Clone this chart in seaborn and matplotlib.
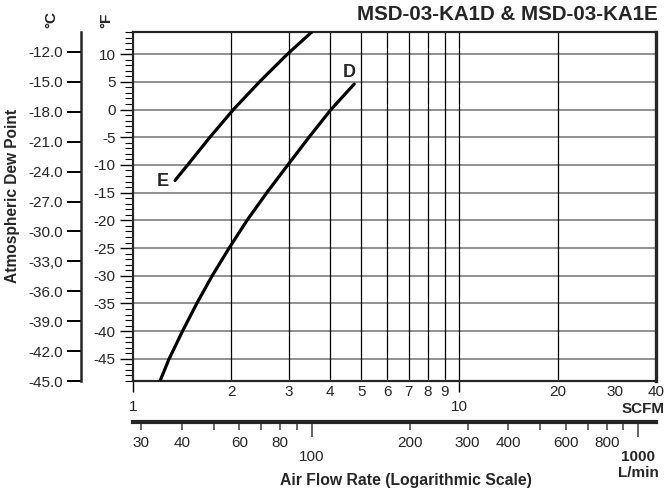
import numpy as np
import pandas as pd
import seaborn as sns
import matplotlib.pyplot as plt
from matplotlib.ticker import NullLocator

# Curve D (MSD-03-KA1D): air flow (SCFM) vs atmospheric dew point (°F)
d_scfm = [1.21, 1.29, 1.418, 1.568, 1.748, 1.97, 2.235, 2.57, 2.98, 3.46, 4.04, 4.76]
d_dew_f = [-49, -45, -40, -35, -30, -25, -20, -15, -10, -5, 0, 4.6]

# Curve E (MSD-03-KA1E)
e_scfm = [1.345, 1.47, 1.72, 2.03, 2.44, 2.97, 3.53]
e_dew_f = [-12.8, -10, -5, 0, 5, 10, 14]

# axis ticks
f_ticks = list(range(-45, 11, 5))
c_ticks = [-12, -15, -18, -21, -24, -27, -30, -33, -36, -39, -42, -45]
c_labels = ['-12.0', '-15.0', '-18.0', '-21.0', '-24.0', '-27.0', '-30.0',
            '-33,0', '-36.0', '-39.0', '-42.0', '-45.0']
scfm_major = [1, 10]
scfm_minor = [2, 3, 4, 5, 6, 7, 8, 9, 20, 30, 40]
scfm_grid = [2, 3, 4, 5, 6, 7, 8, 9, 10, 20]
lmin_major = [100, 1000]
lmin_major_labels = ['100', '1000\nL/min']
lmin_minor = [30, 40, 50, 60, 70, 80, 90, 200, 300, 400, 500, 600, 700, 800, 900]
lmin_minor_labels = ['30', '40', '', '60', '', '80', '', '200', '300', '400', '',
                     '600', '', '800', '']

L_PER_SCFM = 28.317

sns.set_style('ticks')
plt.rcParams['font.family'] = ['Liberation Sans', 'DejaVu Sans']

W, H = 668, 493
fig = plt.figure(figsize=(W / 100, H / 100), dpi=100)
ax = fig.add_axes([133 / W, 1 - 381 / H, 523 / W, 349 / H])

df_d = pd.DataFrame({'scfm': d_scfm, 'dew_f': d_dew_f})
df_e = pd.DataFrame({'scfm': e_scfm, 'dew_f': e_dew_f})
sns.lineplot(data=df_d, x='scfm', y='dew_f', sort=False, color='black', lw=2.3, ax=ax, zorder=5)
sns.lineplot(data=df_e, x='scfm', y='dew_f', sort=False, color='black', lw=2.3, ax=ax, zorder=5)

ax.set_xscale('log')
ax.set_xlim(1, 40)
ax.set_ylim(-49, 14)
ax.set_xlabel('')
ax.set_ylabel('')

# curve labels
ax.annotate('D', (d_scfm[-1], d_dew_f[-1]), xytext=(-3.6, 8.6), textcoords='offset points',
            ha='center', va='center', fontsize=13, fontweight='bold')
ax.annotate('E', (e_scfm[0], e_dew_f[0]), xytext=(-8.6, -0.8), textcoords='offset points',
            ha='center', va='center', fontsize=13, fontweight='bold')

# °F axis
ax.set_yticks(f_ticks, labels=[str(v) for v in f_ticks])
ax.set_yticks(np.arange(-49, 15), minor=True)
ax.tick_params(axis='y', which='major', length=9.5, width=1, pad=3, labelsize=11, color='black')
ax.tick_params(axis='y', which='minor', length=6, width=0.8, color='black')
ax.yaxis.grid(True, which='major', color='0.45', lw=1.1)

# SCFM axis
ax.set_xticks(scfm_major, labels=[str(v) for v in scfm_major])
ax.set_xticks(scfm_minor, labels=[str(v) for v in scfm_minor], minor=True)
ax.tick_params(axis='x', which='major', length=8, width=1, pad=5.5, labelsize=11, color='black')
ax.tick_params(axis='x', which='minor', length=0, pad=3, labelsize=11)
for v in scfm_grid:
    ax.axvline(v, color='black', lw=0.9, zorder=1)

for s in ['left', 'top', 'bottom']:
    ax.spines[s].set_linewidth(1.6)
ax.spines['right'].set_linewidth(2.4)


# °C axis
def f_to_c(f):
    return (np.asarray(f) - 32) * 5 / 9


def c_to_f(c):
    return np.asarray(c) * 9 / 5 + 32


sec_c = ax.secondary_yaxis(-52 / 523, functions=(f_to_c, c_to_f))
sec_c.set_yticks(c_ticks, labels=c_labels)
sec_c.yaxis.set_minor_locator(NullLocator())
sec_c.tick_params(length=10, width=1.4, pad=3, labelsize=11, color='black')
sec_c.spines['left'].set_linewidth(1.8)


# L/min axis
def scfm_to_lmin(s):
    return np.asarray(s) * L_PER_SCFM


def lmin_to_scfm(l):
    return np.asarray(l) / L_PER_SCFM


sec_l = ax.secondary_xaxis(-41 / 349, functions=(scfm_to_lmin, lmin_to_scfm))
sec_l.set_xticks(lmin_major, labels=lmin_major_labels)
sec_l.set_xticks(lmin_minor, labels=lmin_minor_labels, minor=True)
sec_l.tick_params(which='major', length=11, width=1.2, pad=9, labelsize=11, color='0.3')
sec_l.tick_params(which='minor', length=6, width=1.2, pad=4, labelsize=11, color='0.3')
sec_l.spines['bottom'].set_linewidth(3)
sec_l.get_xticklabels()[1].set_fontweight('bold')

# text
fig.text(658 / W, 1 - 14 / H, 'MSD-03-KA1D & MSD-03-KA1E', ha='right', va='center',
         fontsize=14.8, fontweight='bold')
fig.text(13 / W, 1 - 196 / H, 'Atmospheric Dew Point', rotation=90, ha='center', va='center',
         fontsize=11.2, fontweight='bold')
fig.text(51 / W, 1 - 20 / H, '°C', rotation=90, ha='center', va='center',
         fontsize=11, fontweight='bold')
fig.text(106 / W, 1 - 20 / H, '°F', rotation=90, ha='center', va='center',
         fontsize=11, fontweight='bold')
fig.text(665 / W, 1 - 409 / H, 'SCFM', ha='right', va='center', fontsize=11, fontweight='bold')
fig.text(406 / W, 1 - 480 / H, 'Air Flow Rate (Logarithmic Scale)', ha='center', va='center',
         fontsize=11.3, fontweight='bold')

fig.savefig('out.png', dpi=100)
